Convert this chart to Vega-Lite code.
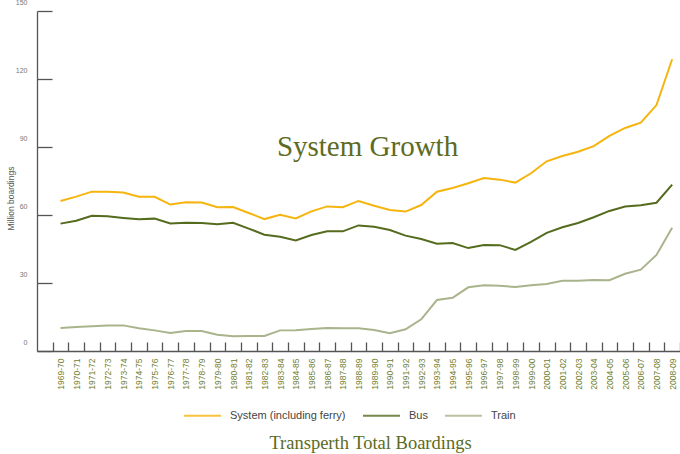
{
  "$schema": "https://vega.github.io/schema/vega-lite/v6.json",
  "width": 643,
  "height": 340,
  "autosize": {"type": "none"},
  "padding": {"left": 37, "top": 11, "right": 0, "bottom": 103},
  "background": "white",
  "datasets": {
    "boardings": [
      {"period": "1969-70", "System (including ferry)": 66.2, "Bus": 56.2, "Train": 10.1},
      {"period": "1970-71", "System (including ferry)": 68.1, "Bus": 57.5, "Train": 10.6},
      {"period": "1971-72", "System (including ferry)": 70.3, "Bus": 59.7, "Train": 10.9},
      {"period": "1972-73", "System (including ferry)": 70.3, "Bus": 59.4, "Train": 11.2},
      {"period": "1973-74", "System (including ferry)": 69.9, "Bus": 58.7, "Train": 11.3},
      {"period": "1974-75", "System (including ferry)": 68.1, "Bus": 58.1, "Train": 10.0},
      {"period": "1975-76", "System (including ferry)": 68.0, "Bus": 58.4, "Train": 9.1},
      {"period": "1976-77", "System (including ferry)": 64.6, "Bus": 56.3, "Train": 7.9},
      {"period": "1977-78", "System (including ferry)": 65.6, "Bus": 56.6, "Train": 8.8},
      {"period": "1978-79", "System (including ferry)": 65.5, "Bus": 56.5, "Train": 8.8},
      {"period": "1979-80", "System (including ferry)": 63.4, "Bus": 55.9, "Train": 7.2},
      {"period": "1980-81", "System (including ferry)": 63.5, "Bus": 56.6, "Train": 6.5},
      {"period": "1981-82", "System (including ferry)": 60.9, "Bus": 54.0, "Train": 6.6},
      {"period": "1982-83", "System (including ferry)": 58.2, "Bus": 51.3, "Train": 6.6},
      {"period": "1983-84", "System (including ferry)": 60.1, "Bus": 50.4, "Train": 9.1},
      {"period": "1984-85", "System (including ferry)": 58.5, "Bus": 48.8, "Train": 9.2},
      {"period": "1985-86", "System (including ferry)": 61.6, "Bus": 51.2, "Train": 9.7},
      {"period": "1986-87", "System (including ferry)": 63.8, "Bus": 52.8, "Train": 10.1},
      {"period": "1987-88", "System (including ferry)": 63.4, "Bus": 52.8, "Train": 10.0},
      {"period": "1988-89", "System (including ferry)": 66.2, "Bus": 55.4, "Train": 10.0},
      {"period": "1989-90", "System (including ferry)": 64.1, "Bus": 54.8, "Train": 9.3},
      {"period": "1990-91", "System (including ferry)": 62.2, "Bus": 53.4, "Train": 7.8},
      {"period": "1991-92", "System (including ferry)": 61.5, "Bus": 50.9, "Train": 9.6},
      {"period": "1992-93", "System (including ferry)": 64.4, "Bus": 49.4, "Train": 14.0},
      {"period": "1993-94", "System (including ferry)": 70.3, "Bus": 47.3, "Train": 22.5},
      {"period": "1994-95", "System (including ferry)": 71.9, "Bus": 47.6, "Train": 23.5},
      {"period": "1995-96", "System (including ferry)": 74.0, "Bus": 45.4, "Train": 28.1},
      {"period": "1996-97", "System (including ferry)": 76.3, "Bus": 46.8, "Train": 29.0},
      {"period": "1997-98", "System (including ferry)": 75.6, "Bus": 46.7, "Train": 28.8},
      {"period": "1998-99", "System (including ferry)": 74.3, "Bus": 44.6, "Train": 28.2},
      {"period": "1999-00", "System (including ferry)": 78.4, "Bus": 48.1, "Train": 29.0},
      {"period": "2000-01", "System (including ferry)": 83.7, "Bus": 52.1, "Train": 29.6},
      {"period": "2001-02", "System (including ferry)": 86.0, "Bus": 54.6, "Train": 31.0},
      {"period": "2002-03", "System (including ferry)": 87.9, "Bus": 56.5, "Train": 31.0},
      {"period": "2003-04", "System (including ferry)": 90.4, "Bus": 59.0, "Train": 31.3},
      {"period": "2004-05", "System (including ferry)": 94.9, "Bus": 61.8, "Train": 31.2},
      {"period": "2005-06", "System (including ferry)": 98.4, "Bus": 63.7, "Train": 34.1},
      {"period": "2006-07", "System (including ferry)": 100.7, "Bus": 64.3, "Train": 35.9},
      {"period": "2007-08", "System (including ferry)": 108.5, "Bus": 65.4, "Train": 42.4},
      {"period": "2008-09", "System (including ferry)": 128.7, "Bus": 73.4, "Train": 54.4}
    ]
  },
  "title": {
    "text": "Transperth Total Boardings",
    "orient": "bottom",
    "anchor": "middle",
    "font": "Liberation Serif",
    "fontSize": 18.5,
    "fontWeight": "normal",
    "color": "#5d6b24",
    "offset": 13,
    "dx": 12
  },
  "layer": [
    {
      "data": {"name": "boardings"},
      "transform": [
        {"fold": ["System (including ferry)", "Bus", "Train"], "as": ["series", "value"]}
      ],
      "mark": {"type": "line", "strokeWidth": 2},
      "encoding": {
        "x": {
          "field": "period",
          "type": "ordinal",
          "sort": null,
          "scale": {"type": "band", "paddingInner": 0, "paddingOuter": 0.5, "align": 1},
          "axis": {
            "title": null,
            "tickBand": "extent",
            "tickSize": -9,
            "tickWidth": 1.3,
            "domainWidth": 1.3,
            "labelAngle": -90,
            "labelPadding": 16,
            "labelFont": "Liberation Sans",
            "labelFontSize": 8.5,
            "labelColor": "#6f7d2e",
            "domainColor": "#555555",
            "tickColor": "#555555"
          }
        },
        "y": {
          "field": "value",
          "type": "quantitative",
          "scale": {"domain": [0, 150], "nice": false},
          "axis": {
            "values": [0, 30, 60, 90, 120, 150],
            "title": "Million boardings",
            "titleFont": "Liberation Sans",
            "titleFontSize": 8.5,
            "titleFontWeight": "normal",
            "titleColor": "#555555",
            "titleX": -27,
            "titleY": 187,
            "titleAlign": "center",
            "titleBaseline": "middle",
            "tickSize": -15,
            "tickWidth": 1.3,
            "domainWidth": 1.3,
            "labelPadding": 25,
            "labelOffset": -9,
            "labelFont": "Liberation Sans",
            "labelFontSize": 7,
            "labelColor": "#777777",
            "domainColor": "#555555",
            "tickColor": "#555555",
            "grid": false
          }
        },
        "color": {
          "field": "series",
          "type": "nominal",
          "scale": {
            "domain": ["System (including ferry)", "Bus", "Train"],
            "range": ["#F6B40E", "#556B1E", "#A9B48C"]
          },
          "legend": {
            "title": null,
            "orient": "none",
            "direction": "horizontal",
            "legendX": 146,
            "legendY": 385,
            "symbolType": "stroke",
            "symbolSize": 1369,
            "symbolStrokeWidth": 2,
            "symbolOpacity": 0.8,
            "labelFont": "Liberation Sans",
            "labelFontSize": 11,
            "labelColor": "#444444",
            "labelOffset": 8,
            "columnPadding": 13
          }
        }
      }
    },
    {
      "data": {"values": [{}]},
      "mark": {
        "type": "text",
        "font": "Liberation Serif",
        "fontSize": 29,
        "color": "#5d6b24",
        "align": "center",
        "baseline": "alphabetic",
        "dx": 9
      },
      "encoding": {
        "x": {"datum": "1988-89"},
        "y": {"datum": 86},
        "text": {"value": "System Growth"}
      }
    }
  ],
  "config": {
    "view": {"stroke": null},
    "axis": {"grid": false}
  }
}
